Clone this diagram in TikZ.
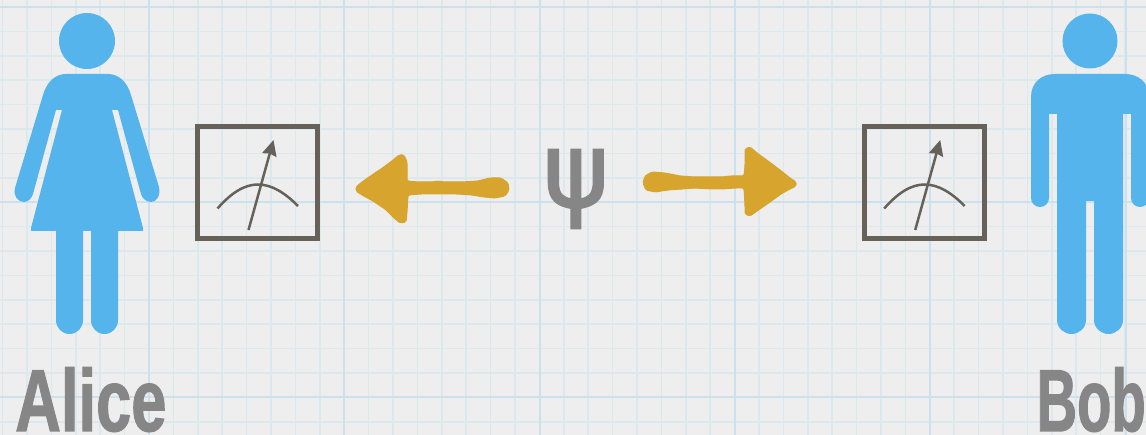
\documentclass[tikz,border=0pt]{standalone}
\usepackage{fontspec}
\usepackage{tikz}
\usetikzlibrary{arrows.meta}
\setmainfont{Liberation Sans}
\newfontfamily\nombrefont{Liberation Sans Bold}[FakeBold=1.6]
\newfontfamily\psifont{DejaVu Sans}[FakeBold=2.4]
\definecolor{papel}{HTML}{EEEEEE}
\definecolor{rejilla}{HTML}{DBE8EE}
\definecolor{rejillafuerte}{HTML}{CDE1EC}
\definecolor{persona}{HTML}{56B4EC}
\definecolor{oro}{HTML}{D7A52E}
\definecolor{rotulo}{HTML}{868686}
\definecolor{medidor}{HTML}{666259}

\begin{document}
\begin{tikzpicture}[
    x=0.02cm,
    y=-0.02cm,
    >={Stealth[length=0.31cm,width=0.29cm,inset=0.03cm]},
    fina/.style={rejilla,line width=0.03cm},
    fuerte/.style={rejillafuerte,line width=0.05cm},
    cuerpo/.style={fill=persona,draw=none},
    flecha/.style={fill=oro,draw=oro,line width=0.02cm,line join=round,rounded corners=0.03cm},
    aguja/.style={medidor,line width=0.05cm,line cap=butt},
    nombre/.style={text=rotulo,font=\nombrefont\fontsize{50}{50}\selectfont,inner sep=0pt}
]
    \useasboundingbox (0,0) rectangle (1146,435);
    \fill[papel] (0,0) rectangle (1146,435);

    % Rejilla
    \foreach \n in {0,...,47}{
        \draw[fina] (2.6+24.4*\n,0) -- (2.6+24.4*\n,435);
    }
    \foreach \n in {0,...,17}{
        \draw[fina] (0,7+24.4*\n) -- (1146,7+24.4*\n);
    }
    \foreach \gx in {149,344,540,735,930,1126}{
        \draw[fuerte] (\gx,0) -- (\gx,435);
    }
    \foreach \gy in {7,202,397}{
        \draw[fuerte] (0,\gy) -- (1146,\gy);
    }

    % Alice
    \fill[cuerpo] (87,41) circle (28);
    \fill[cuerpo] (66,74) -- (108,74)
        .. controls (118,74) and (127,81) .. (131,95)
        -- (159,187)
        .. controls (161,196) and (156,202) .. (151,202)
        .. controls (146,202) and (142,198) .. (141,194)
        -- (118,110) -- (112,110) -- (143,228) -- (143,231) -- (118,231)
        -- (118,320) .. controls (118,328) and (112,334) .. (104.5,334)
        .. controls (97,334) and (91,328) .. (91,320)
        -- (91,231) -- (83,231)
        -- (83,320) .. controls (83,328) and (77,334) .. (69.5,334)
        .. controls (62,334) and (56,328) .. (56,320)
        -- (56,231) -- (31,231) -- (31,228) -- (62,110) -- (56,110)
        -- (33,194)
        .. controls (32,198) and (28,202) .. (24,202)
        .. controls (18,202) and (13,196) .. (15,188)
        -- (43,95)
        .. controls (47,81) and (56,74) .. (66,74) -- cycle;
    \node[nombre,anchor=base west,xscale=0.72] (alice) at (15,431) {Alice};

    % Bob
    \fill[cuerpo] (1090,41) circle (27.5);
    \fill[cuerpo] (1055,74) -- (1125,74)
        .. controls (1138,74) and (1149,82) .. (1149,97)
        -- (1149,198) .. controls (1149,203) and (1145,207) .. (1140,207)
        .. controls (1135,207) and (1131,203) .. (1131,198)
        -- (1131,114) -- (1123,114)
        -- (1123,320) .. controls (1123,328) and (1116,334) .. (1108.5,334)
        .. controls (1101,334) and (1094,328) .. (1094,320)
        -- (1094,201) -- (1086,201)
        -- (1086,320) .. controls (1086,328) and (1079,334) .. (1071.5,334)
        .. controls (1064,334) and (1057,328) .. (1057,320)
        -- (1057,114) -- (1049,114)
        -- (1049,198) .. controls (1049,203) and (1045,207) .. (1040,207)
        .. controls (1035,207) and (1031,203) .. (1031,198)
        -- (1031,97)
        .. controls (1031,82) and (1042,74) .. (1055,74) -- cycle;
    \node[nombre,anchor=base east,xscale=0.64] (bob) at (1146,431) {Bob};

    % Medidores
    \foreach \mx in {0,666.7}{
        \begin{scope}[shift={(\mx,0)}]
            \draw[medidor,line width=0.095cm] (197.7,126.4) rectangle (317.6,238.3);
            \draw[aguja] (217.5,208.5) .. controls (232,192) and (245,184.5) .. (258,184.5)
                .. controls (272,184.5) and (285,193) .. (298,206);
            \draw[aguja,->] (248.5,230) -- (273.5,140);
        \end{scope}
    }

    % Flechas
    \path[flecha] (356,187) -- (362,182) -- (372,175) -- (381,169) -- (392,161) -- (399,155)
        -- (404,155) -- (407,162) -- (407,181) -- (418,182) -- (434,182) -- (436,181) -- (445,182)
        -- (462,182) -- (478,181) -- (490,178) -- (501,178) -- (508,183) -- (509,190) -- (505,196)
        -- (495,198) -- (484,197) -- (472,195) -- (458,194) -- (448,194) -- (436,194) -- (420,194)
        -- (408,195) -- (407,212) -- (406,222) -- (400,223) -- (393,217) -- (385,209) -- (373,201)
        -- (362,195) -- (356,191) -- cycle;
    \path[flecha] (796,182) -- (790,178) -- (780,170) -- (768,161) -- (757,153) -- (750,147)
        -- (745,149) -- (745,166) -- (744,176) -- (730,176) -- (722,177) -- (710,177) -- (695,177)
        -- (680,176) -- (665,173) -- (652,172) -- (645,176) -- (643,183) -- (646,190) -- (655,192)
        -- (668,190) -- (682,189) -- (695,188) -- (712,189) -- (722,189) -- (735,188) -- (744,188)
        -- (745,205) -- (745,214) -- (750,216) -- (760,209) -- (770,202) -- (781,194) -- (790,189)
        -- (796,186) -- cycle;

    % Estado
    \node[text=rotulo,font=\psifont\fontsize{59}{59}\selectfont,inner sep=0pt,xscale=0.95] (estado) at (576,189) {ψ};
\end{tikzpicture}
\end{document}
